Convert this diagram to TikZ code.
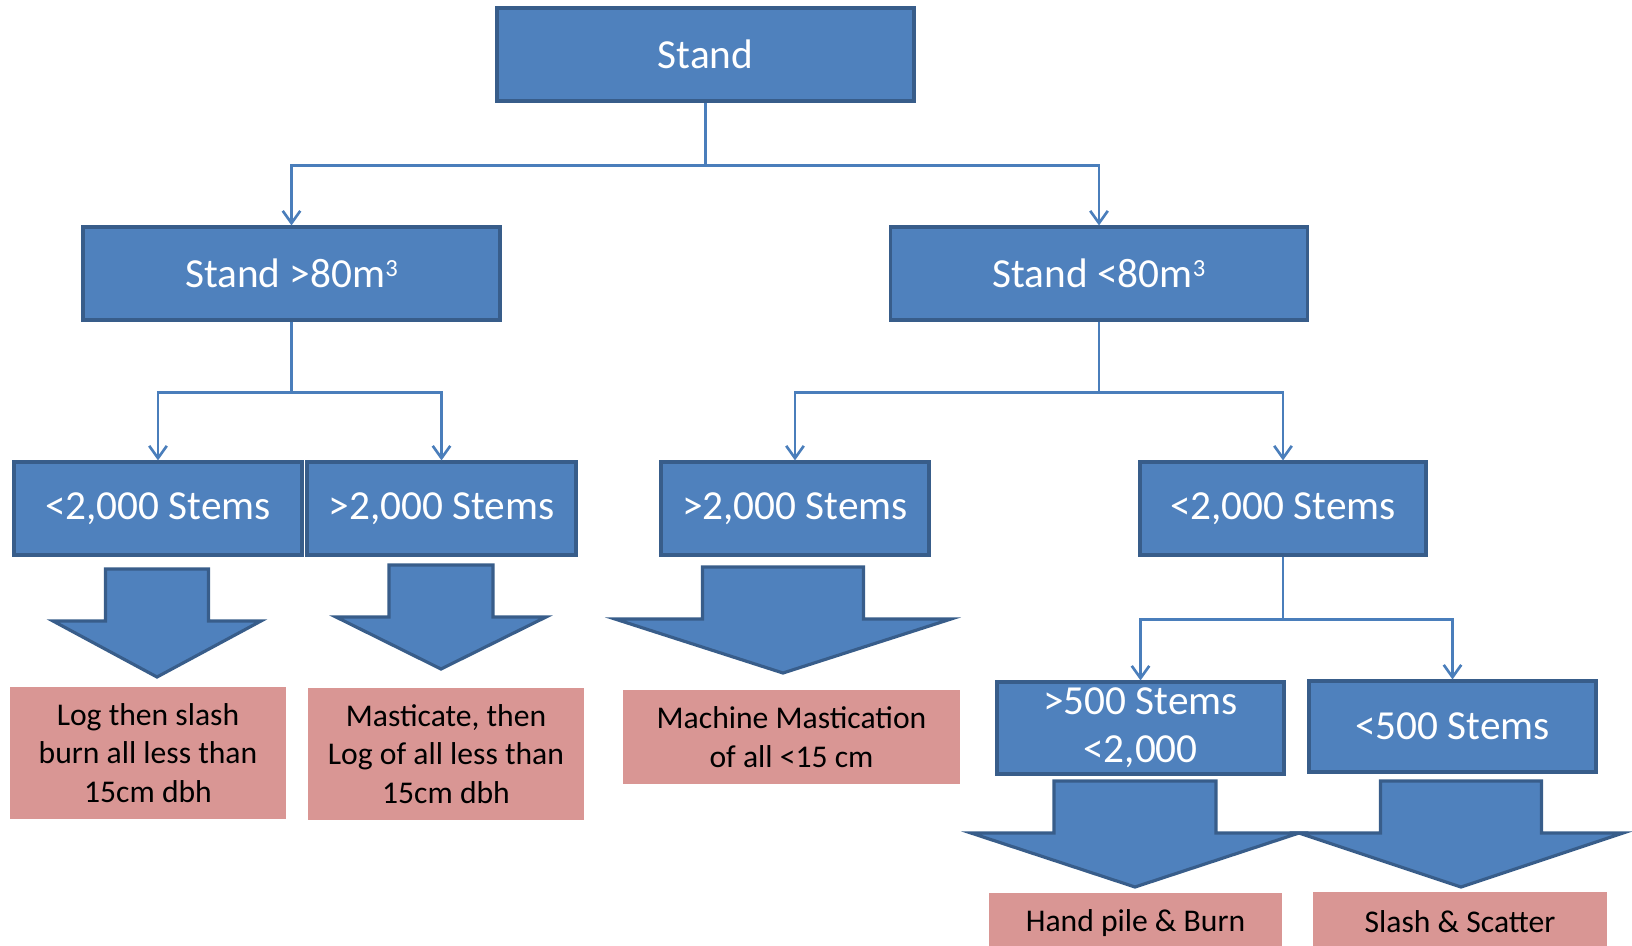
\documentclass[tikz,border=0pt]{standalone}
\usepackage{fontspec}
\setmainfont{Carlito}
\usepackage{tikz}
\usepackage{xcolor}
\usetikzlibrary{calc,arrows.meta,positioning}
\definecolor{stemBlue}{RGB}{79,129,189}
\definecolor{stemEdge}{RGB}{56,93,138}
\definecolor{linkBlue}{RGB}{74,126,187}
\definecolor{treatPink}{RGB}{217,150,148}

% cubic metre superscript
\newcommand{\cubed}{\raisebox{6.2pt}{\fontsize{14}{14}\selectfont 3}}
% block arrow: centre x, shaft half width, top, neck y, wing half width, tip y
\newcommand{\fatarrow}[6]{%
  \draw[fatarrow] (#1-#2,#3) -- (#1+#2,#3) -- (#1+#2,#4) -- (#1+#5,#4) -- (#1,#6)
    -- (#1-#5,#4) -- (#1-#2,#4) -- cycle;}

\begin{document}
\begin{tikzpicture}[x=0.02cm,y=-0.02cm,
  stembox/.style={draw=stemEdge,fill=stemBlue,line width=1.8pt,text=white,inner sep=0pt,align=center,
    font=\fontsize{23.5}{27.5}\selectfont},
  treatbox/.style={fill=treatPink,text=black,inner sep=0pt,align=center,
    font=\fontsize{18}{22}\selectfont},
  link/.style={draw=linkBlue,line width=1.25pt,-{Straight Barb[length=7pt,width=10pt,line width=1.5pt]}},
  trunk/.style={draw=linkBlue,line width=1.25pt},
  fatarrow/.style={draw=stemEdge,fill=stemBlue,line width=1.8pt,line join=miter}]
\path[use as bounding box] (0,0) rectangle (1632,946);

% decision boxes
\node[stembox,minimum width=8.34cm,minimum height=1.86cm] (stand) at (705.5,54.5) {Stand};
\node[stembox,minimum width=8.34cm,minimum height=1.86cm] (big) at (291.5,273.5) {Stand >80m\cubed};
\node[stembox,minimum width=8.34cm,minimum height=1.86cm] (small) at (1099,273.5) {Stand <80m\cubed};

\node[stembox,minimum width=5.76cm,minimum height=1.86cm] (bigFew) at (158,508.5) {<2,000 Stems};
\node[stembox,minimum width=5.38cm,minimum height=1.86cm] (bigMany) at (441.5,508.5) {>2,000 Stems};
\node[stembox,minimum width=5.36cm,minimum height=1.86cm] (smallMany) at (795,508.5) {>2,000 Stems};
\node[stembox,minimum width=5.72cm,minimum height=1.86cm] (smallFew) at (1283,508.5) {<2,000 Stems};

\node[stembox,minimum width=5.74cm,minimum height=1.84cm] (midStems) at (1140.5,728) {>500 Stems\\<2,000};
\node[stembox,minimum width=5.74cm,minimum height=1.82cm] (lowStems) at (1452.5,726.5) {<500 Stems};

% treatments
\node[treatbox,minimum width=5.52cm,minimum height=2.64cm] (logBurn) at (148,753) {Log then slash\\burn all less than\\15cm dbh};
\node[treatbox,minimum width=5.52cm,minimum height=2.64cm] (mastLog) at (446,754) {Masticate, then\\Log of all less than\\15cm dbh};
\node[treatbox,minimum width=6.74cm,minimum height=1.88cm] (machine) at (791.5,737) {Machine Mastication\\of all <15 cm};
\node[treatbox,minimum width=5.86cm,minimum height=1.2cm] (handPile) at (1135.5,923) {Hand pile \& Burn};
\node[treatbox,minimum width=5.88cm,minimum height=1.2cm] (slashScatter) at (1460,922) {Slash \& Scatter};

% connectors
\draw[trunk] (stand.south) -- ++(0,63) coordinate (standSplit);
\draw[link] (standSplit) -| (big.north);
\draw[link] (standSplit) -| (small.north);
\draw[trunk] (big.south) -- ++(0,71) coordinate (bigSplit);
\draw[link] (bigSplit) -| (bigFew.north);
\draw[link] (bigSplit) -| (bigMany.north);
\draw[trunk] (small.south) -- ++(0,71) coordinate (smallSplit);
\draw[link] (smallSplit) -| (smallMany.north);
\draw[link] (smallSplit) -| (smallFew.north);
\draw[trunk] (smallFew.south) -- ++(0,63) coordinate (fewSplit);
\draw[link] (fewSplit) -| (midStems.north);
\draw[link] (fewSplit) -| (lowStems.north);

% block arrows
\fatarrow{157}{51.5}{569}{621}{104}{677}
\fatarrow{441}{52}{565}{617}{105}{669}
\fatarrow{783}{80.5}{567}{619}{168}{673}
\fatarrow{1135}{81}{781}{833}{164}{887}
\fatarrow{1461}{80.5}{781}{833}{162}{887}
\end{tikzpicture}
\end{document}
